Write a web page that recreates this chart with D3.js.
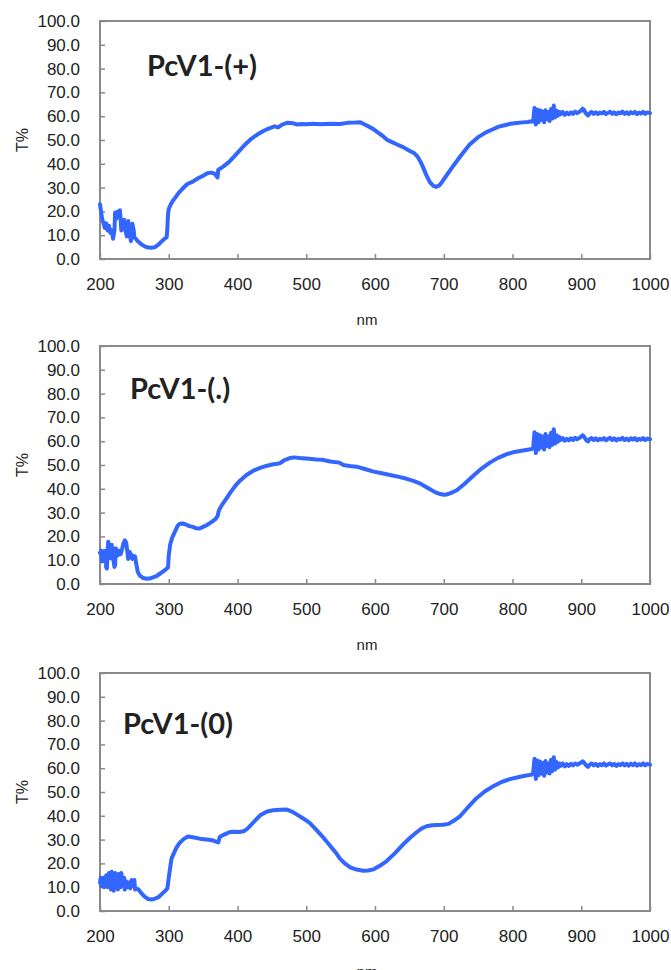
<!DOCTYPE html>
<html>
<head>
<meta charset="utf-8">
<script src="https://cdn.jsdelivr.net/npm/d3@7"></script>
<style>
body { margin: 0; background: #fff; }
text { font-family: "Liberation Sans", Arial, sans-serif; fill: #222; }
</style>
</head>
<body>
<div id="chart"></div>
<script>
// wavelength (nm) vs transmittance (T%)
const specPlus = [[200,23],[201,21],[203,17],[205,15],[207,13],[209,15],[211,12],[213,14],[215,11],[217,12],[219,8.5],[221,12],[222,19.5],[224,17],[226,20],[228,19],[229,20.5],[231,12],[233,15],[235,16.5],[237,12],[239,9.5],[241,16],[243,11],[245,7.5],[246,13],[247,14.8],[249,12],[250,9],[252,8.5],[255,7.5],[260,6.2],[265,5.3],[270,4.8],[275,4.7],[280,5],[285,6],[290,7.5],[294,8.5],[297,9.2],[298,13],[299,19],[300,21],[303,23],[306,24.5],[310,26],[315,28],[320,29.5],[327,31.5],[335,32.5],[342,33.8],[350,35],[356,36],[362,36.3],[366,36],[369,35],[371,34.3],[372,37.5],[375,38],[380,39],[387,40.6],[395,43],[401,44.9],[410,47.8],[420,50.5],[430,52.5],[439,54],[447,55],[454,55.7],[459,55.3],[465,56.5],[472,57.2],[481,57],[487,56.5],[493,56.7],[500,56.6],[510,56.8],[520,56.6],[535,56.8],[549,56.7],[560,57.2],[570,57.3],[578,57.5],[585,56.5],[592,55.5],[598,54.5],[605,53],[612,51.5],[618,50],[624,49.2],[633,48],[641,47],[650,45.5],[657,44.5],[662,43],[666,41],[670,38.5],[675,35],[680,32.2],[685,30.7],[689,30.3],[693,30.8],[697,32.2],[705,35.5],[714,39.2],[725,43.5],[738,48.2],[750,51.2],[762,53.3],[770,54.3],[780,55.6],[787,56.1],[797,56.8],[806,57.1],[815,57.4],[822,57.6],[828,57.9],
  [830,57.8],[832,63.5],[834,56.5],[836,62.8],[838,57.5],[840,62.5],[842,58.5],[844,62],[846,57.5],[848,62.5],[850,58.8],[852,61.8],[854,58],[856,63],[858,59],[860,64.5],[862,59.5],[864,62.3],[866,60.2],[868,61.8],[870,60.8],
  [873,61.8],[876,60.6],[879,61.5],[882,60.8],[885,61.6],[888,61],[891,61.9],[894,61.3],[897,61.8],[900,62.4],[902,63.2],[904,62.6],[906,61.5],[908,60.8],[910,60.3],[912,61.2],[915,61.8],[918,61],[921,61.6],[924,60.9],[927,61.5],[930,61.2],[933,61.8],[936,60.9],[939,61.4],[942,61.9],[945,61],[948,61.6],[951,60.8],[954,61.5],[957,61.2],[960,61.9],[963,61],[966,61.6],[969,60.9],[972,61.7],[975,61.2],[978,61.8],[981,60.9],[984,61.5],[987,61.1],[990,61.8],[993,61],[996,61.6],[1000,61.3]];

const specDot = [[200,13],[202,14],[203,9.5],[205,13.8],[206,12],[207,9.5],[208,14],[209,7],[210,6.5],[211,13],[212,17.8],[213,14.5],[215,10.8],[217,16.5],[218,14],[219,11],[221,7.2],[222,8],[223,15],[225,13],[226,12],[228,14],[230,12.5],[232,14.5],[234,17],[236,18.3],[238,17.5],[240,13],[241,10.5],[243,13.5],[245,12.5],[247,10.5],[249,11.8],[251,11.5],[253,8],[255,5],[258,3.5],[263,2.5],[268,2.2],[272,2.3],[277,2.8],[282,3.3],[287,4.3],[292,5.3],[296,6.2],[299,7],[300,12],[302,16.5],[305,19.5],[309,22],[313,24.5],[316,25.3],[320,25.4],[325,25],[330,24.3],[335,24],[340,23.4],[345,23.3],[350,24],[355,24.7],[362,26],[368,27.3],[371,28.5],[373,31],[378,33.5],[384,36],[390,38.6],[397,41.3],[404,43.5],[413,45.8],[423,47.6],[433,48.8],[443,49.7],[452,50.3],[458,50.5],[462,50.8],[468,52],[475,52.8],[482,53.2],[490,52.9],[504,52.6],[515,52.3],[523,52.2],[535,51.5],[548,51],[554,50],[563,49.6],[573,49.3],[585,48.3],[598,47.2],[610,46.5],[622,45.8],[635,45],[646,44.2],[656,43.3],[665,42.3],[673,41],[680,39.8],[688,38.5],[695,37.8],[700,37.5],[704,37.6],[710,38.2],[719,39.4],[730,42],[743,45.5],[755,48.5],[767,51],[779,53],[791,54.5],[803,55.5],[813,56],[822,56.4],[828,56.7],
  [830,57],[832,63.8],[834,55],[836,63],[838,56.5],[840,62.5],[842,57.5],[844,62],[846,56.5],[848,63],[850,58],[852,62],[854,57.5],[856,63.5],[858,58.5],[860,65],[862,59],[864,62.5],[866,59.8],[868,61.8],[870,60.5],
  [873,61.3],[876,60.2],[879,61],[882,60.4],[885,61.2],[888,60.5],[891,61.4],[894,60.8],[897,61.3],[900,61.9],[902,62.5],[904,62],[906,61],[908,60.2],[910,59.9],[912,60.8],[915,61.3],[918,60.5],[921,61.2],[924,60.4],[927,61],[930,60.7],[933,61.3],[936,60.4],[939,61],[942,61.4],[945,60.5],[948,61.2],[951,60.3],[954,61],[957,60.7],[960,61.4],[963,60.5],[966,61.1],[969,60.4],[972,61.2],[975,60.7],[978,61.3],[981,60.4],[984,61],[987,60.6],[990,61.3],[993,60.5],[996,61.1],[1000,60.8]];

const specZero = [[200,12],[201,14],[202,10.5],[203,13.5],[204,11],[205,14],[206,10],[207,13],[208,11.5],[209,15],[210,12],[211,10],[212,14],[213,16],[214,11],[215,13],[216,9],[217,16.5],[218,12],[219,15],[220,8.5],[221,13],[222,16],[223,10.5],[224,14],[225,12],[226,9],[227,15.5],[228,11.5],[229,13],[230,10],[231,16],[232,12],[233,11],[235,14],[236,9],[238,12.5],[240,10],[242,12],[244,9.5],[246,13],[248,10.5],[250,13],[251,9],[253,9.5],[256,9],[260,7.5],[265,6],[270,5],[275,4.8],[280,5.2],[285,5.8],[290,7.2],[295,8.5],[298,9.5],[300,14],[302,18],[304,22],[307,24],[311,26.5],[316,28.7],[322,30.3],[328,31.3],[335,31],[345,30.4],[358,29.9],[365,29.6],[370,29],[372,28.8],[374,31],[378,31.8],[384,32.5],[389,33.2],[396,33.3],[403,33.2],[410,33.6],[416,35],[424,37.5],[433,40.2],[443,41.8],[452,42.3],[462,42.5],[472,42.6],[479,41.8],[486,40.6],[495,39],[505,37],[515,34],[525,30.8],[535,27.3],[543,24.5],[549,22],[556,20],[564,18.3],[573,17.4],[583,16.9],[590,17],[598,17.5],[607,19],[617,21],[628,24],[641,28],[651,30.8],[661,33.2],[668,34.7],[675,35.6],[683,36],[690,36.1],[699,36.2],[707,36.6],[715,38],[724,39.9],[735,43.5],[748,47.5],[760,50.3],[772,52.4],[784,54.2],[796,55.4],[808,56.2],[818,56.8],[828,57.3],
  [830,58],[832,64],[834,55.5],[836,63.2],[838,57],[840,62.8],[842,57.8],[844,62.2],[846,56.8],[848,63],[850,58.2],[852,62],[854,57.8],[856,63.5],[858,58.8],[860,64.6],[862,59.5],[864,62.6],[866,60.3],[868,62],[870,61],
  [873,62],[876,60.8],[879,61.7],[882,61],[885,61.8],[888,61.2],[891,62],[894,61.5],[897,61.9],[900,62.4],[902,62.9],[904,62.4],[906,61.6],[908,61],[910,60.6],[912,61.4],[915,62],[918,61.2],[921,61.8],[924,61],[927,61.7],[930,61.3],[933,62],[936,61.1],[939,61.6],[942,62],[945,61.2],[948,61.8],[951,61],[954,61.7],[957,61.3],[960,62],[963,61.2],[966,61.8],[969,61.1],[972,61.9],[975,61.3],[978,62],[981,61.1],[984,61.7],[987,61.3],[990,62],[993,61.2],[996,61.8],[1000,61.5]];

const titles = ["PcV1-(+)", "PcV1-(.)", "PcV1-(0)"];
const series = [specPlus, specDot, specZero];
const xTicks = [200, 300, 400, 500, 600, 700, 800, 900, 1000];
const yTicks = [0, 10, 20, 30, 40, 50, 60, 70, 80, 90, 100];

const width = 671, height = 970;
const plotLeft = 100, plotRight = 650, plotH = 238;
const panelTop = [21, 346, 673];
const titlePos = [[147, 55], [130, 53], [123, 61]];

var svg = d3.select("#chart")
            .append("svg")
            .attr("width", width)
            .attr("height", height);

svg.append("rect").attr("width", width).attr("height", height).attr("fill", "#fff");

var x = d3.scaleLinear().domain([200, 1000]).range([plotLeft, plotRight]);

series.forEach(function(data, i) {
  var top = panelTop[i];
  var y = d3.scaleLinear().domain([0, 100]).range([top + plotH, top]);
  var g = svg.append("g");

  // frame
  g.append("rect")
    .attr("x", plotLeft).attr("y", top)
    .attr("width", plotRight - plotLeft).attr("height", plotH)
    .attr("fill", "none").attr("stroke", "#8a8a8a").attr("stroke-width", 2);

  // y axis, ticks inside
  var yAxis = g.append("g")
    .attr("transform", `translate(${plotLeft},0)`)
    .call(d3.axisLeft(y).tickValues(yTicks).tickFormat(d3.format(".1f")).tickSize(-5).tickPadding(20));
  yAxis.select(".domain").remove();
  yAxis.selectAll("line").attr("stroke", "#8a8a8a").attr("stroke-width", 1.5);
  yAxis.selectAll("text").style("font-size", "17px").attr("fill", "#222").style("font-family", "'Liberation Sans', Arial, sans-serif");

  // x axis, ticks inside
  var xAxis = g.append("g")
    .attr("transform", `translate(0,${top + plotH})`)
    .call(d3.axisBottom(x).tickValues(xTicks).tickFormat(d3.format("d")).tickSize(-5).tickPadding(19));
  xAxis.select(".domain").remove();
  xAxis.selectAll("line").attr("stroke", "#8a8a8a").attr("stroke-width", 1.5);
  xAxis.selectAll("text").style("font-size", "17px").attr("fill", "#222").style("font-family", "'Liberation Sans', Arial, sans-serif");

  // axis labels
  g.append("text")
    .attr("x", 367).attr("y", top + plotH + 66)
    .attr("text-anchor", "middle")
    .style("font-size", "15px")
    .text("nm");

  g.append("text")
    .attr("transform", `translate(28,${top + plotH / 2}) rotate(-90)`)
    .attr("text-anchor", "middle")
    .style("font-size", "16px")
    .text("T%");

  // spectrum
  var line = d3.line().x(d => x(d[0])).y(d => y(d[1]));
  g.append("path")
    .datum(data)
    .attr("d", line)
    .attr("fill", "none")
    .attr("stroke", "#3366ff")
    .attr("stroke-width", 4)
    .attr("stroke-linejoin", "round")
    .attr("stroke-linecap", "round");

  // panel title
  g.append("text")
    .attr("x", titlePos[i][0]).attr("y", top + titlePos[i][1])
    .style("font-family", "Lato, 'Open Sans', sans-serif")
    .style("font-weight", "bold")
    .style("font-size", "29px")
    .attr("fill", "#000")
    .text(titles[i]);
});
</script>
</body>
</html>
